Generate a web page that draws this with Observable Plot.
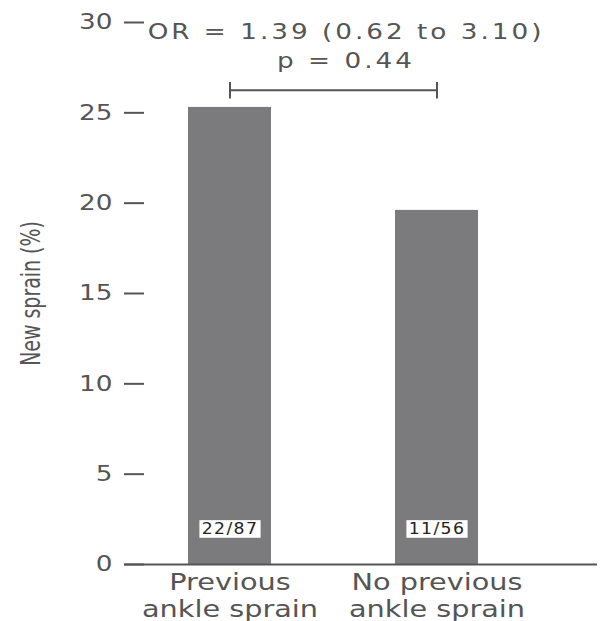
<!DOCTYPE html>
<html>
<head>
<meta charset="utf-8">
<script src="https://cdn.jsdelivr.net/npm/d3@7"></script>
<script src="https://cdn.jsdelivr.net/npm/@observablehq/plot@0.6"></script>
<style>
  html, body { margin: 0; padding: 0; background: #fff; }
</style>
</head>
<body>
<div id="chart"></div>
<script>
// ---- data ----
const categories = ["Previous ankle sprain", "No previous ankle sprain"];
const categoryLines = [["Previous", "ankle sprain"], ["No previous", "ankle sprain"]];
const newSprainPct = [25.3, 19.6];
const countLabels = ["22/87", "11/56"];
const yTicks = [0, 5, 10, 15, 20, 25, 30];
const yLabel = "New sprain (%)";
const annotationLines = ["OR = 1.39 (0.62 to 3.10)", "p = 0.44"];
const bracketValue = 26.25;
const bracketCap = 0.45;
const countLabelValue = 1.95;

const rows = categories.map((c, i) => ({category: c, pct: newSprainPct[i], count: countLabels[i]}));
const lineMap = new Map(categories.map((c, i) => [c, categoryLines[i].join("\n")]));

const ink = "#555";
const barFill = "#7b7b7e";

const chart = Plot.plot({
  width: 607,
  height: 621,
  marginLeft: 124,
  marginRight: 10,
  marginTop: 22,
  marginBottom: 57,
  style: {fontFamily: "DejaVu Sans", fontSize: "21px", color: ink, background: "#fff"},
  x: {domain: categories, paddingInner: 0.6, paddingOuter: 0.44, align: 0.35, label: null},
  y: {domain: [0, 30], label: null},
  marks: [
    Plot.barY(rows, {x: "category", y: "pct", fill: barFill}),
    Plot.ruleY([0], {stroke: ink, strokeWidth: 2}),
    Plot.axisY(yTicks, {tickSize: -20, tickFormat: () => "", stroke: ink, strokeWidth: 2, label: null}),
    Plot.axisY(yTicks, {tickSize: 0, tickPadding: 12, line: true, stroke: ink, strokeWidth: 2,
      fill: ink, fontSize: 21, label: null}),
    Plot.axisX({tickSize: 0, tickPadding: 6, tickFormat: d => lineMap.get(d), lineHeight: 1.17,
      fontSize: 23, fill: ink, label: null}),
    Plot.text([yLabel], {frameAnchor: "left", textAnchor: "middle", dx: -93, rotate: -90, fontSize: 27,
      fontFamily: "DejaVu Sans Condensed, sans-serif", fill: ink}),
    Plot.text([annotationLines.join("\n")], {frameAnchor: "top", dx: -15, dy: -4, lineAnchor: "top",
      lineHeight: 1.38, fontSize: 21, fill: ink}),
    Plot.line(categories.map(c => ({x: c, y: bracketValue})), {x: "x", y: "y", stroke: ink, strokeWidth: 2}),
    Plot.link(categories, {x1: d => d, x2: d => d, y1: bracketValue - bracketCap, y2: bracketValue + bracketCap,
      stroke: ink, strokeWidth: 2}),
    Plot.text(rows, {x: "category", y: () => countLabelValue, text: "count", fontSize: 15, fill: "#222"})
  ]
});

document.getElementById("chart").append(chart);

// Widen (or narrow) glyphs along the text direction to mimic the reference typeface
function widen(t, s, spacing) {
  const xa = t.getAttribute("x");
  let pre = "";
  if (xa !== null && isFinite(+xa)) { pre = ` translate(${+xa},0)`; t.removeAttribute("x"); }
  const tr = t.getAttribute("transform") || "";
  t.setAttribute("transform", `${tr}${pre} scale(${s},1)`);
  if (spacing) t.style.letterSpacing = spacing + "px";
}
const allText = Array.from(chart.querySelectorAll("text"));
const has = (t, str) => t.textContent.includes(str);
chart.querySelectorAll('g[aria-label="y-axis tick label"] text').forEach(t => widen(t, 1.25, 0));
chart.querySelectorAll('g[aria-label="x-axis tick label"] text').forEach(t => widen(t, 1.25, 0));
allText.filter(t => has(t, "OR =")).forEach(t => widen(t, 1.25, 2.4));
allText.filter(t => t.textContent === yLabel).forEach(t => widen(t, 0.78, 0));
allText.filter(t => countLabels.includes(t.textContent)).forEach(t => {
  widen(t, 1.15, 1.2);
  const b = t.getBBox();
  const g = document.createElementNS("http://www.w3.org/2000/svg", "g");
  g.setAttribute("transform", t.getAttribute("transform"));
  const r = document.createElementNS("http://www.w3.org/2000/svg", "rect");
  r.setAttribute("x", b.x - 2);
  r.setAttribute("y", b.y);
  r.setAttribute("width", b.width + 4);
  r.setAttribute("height", b.height);
  r.setAttribute("fill", "#fff");
  g.append(r);
  t.parentNode.insertBefore(g, t);
});
</script>
</body>
</html>
